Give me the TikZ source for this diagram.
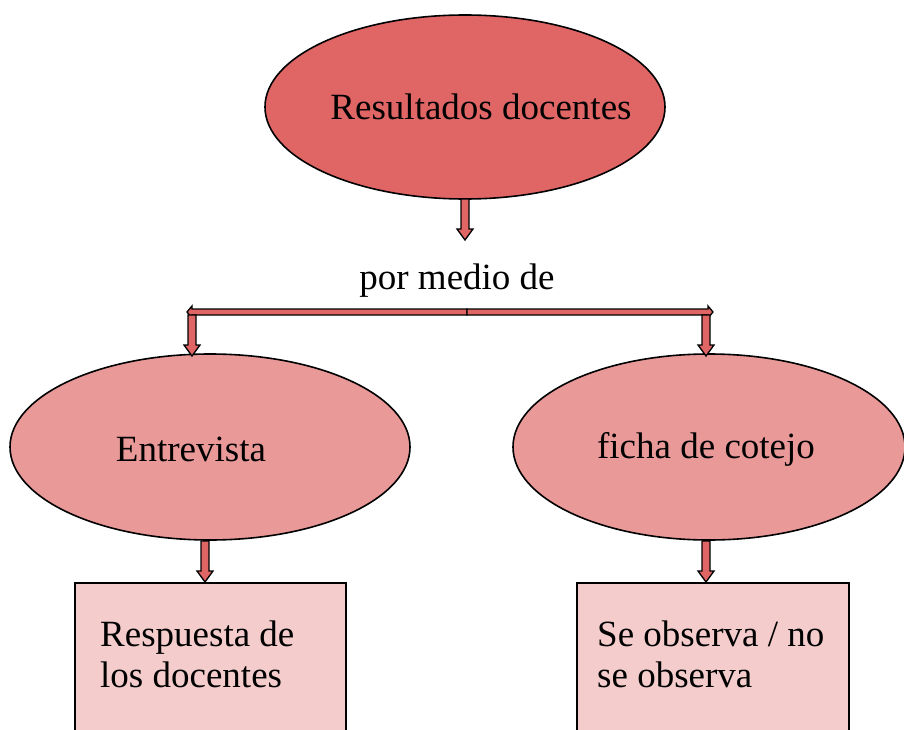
\documentclass[tikz,border=0pt]{standalone}
\usepackage{fontspec}
\setmainfont{Liberation Serif}
\usetikzlibrary{calc}
\definecolor{topfill}{HTML}{E06666}
\definecolor{midfill}{HTML}{EA9999}
\definecolor{boxfill}{HTML}{F4CCCC}
\definecolor{arrfill}{HTML}{E06666}
\tikzset{
  ell/.style={draw=black, line width=1.6pt, ellipse},
  boxsty/.style={draw=black, line width=1.3pt, fill=boxfill},
  arr/.style={draw=black, line width=1.3pt, fill=arrfill, line join=miter},
  txt/.style={font=\fontsize{37}{41}\selectfont, inner sep=0pt},
}
\newcommand\varr[3]{%
  \filldraw[arr] (#1-4,#2) -- (#1+4,#2) -- (#1+4,#3-11) -- (#1+8,#3-11) -- (#1,#3) -- (#1-8,#3-11) -- (#1-4,#3-11) -- cycle;}
\begin{document}
\begin{tikzpicture}[x=1pt,y=-1pt]
\useasboundingbox (0,0) rectangle (904,730);
\clip (0,0) rectangle (904,730);
% ellipses
\filldraw[draw=black, line width=1.6pt, fill=topfill] (465,107) ellipse [x radius=200, y radius=92];
\node[txt] (top) at (481,107) {Resultados docentes};
\filldraw[draw=black, line width=1.6pt, fill=midfill] (210,447) ellipse [x radius=200, y radius=93];
\node[txt] (entr) at (191,449) {Entrevista};
\filldraw[draw=black, line width=1.6pt, fill=midfill] (709,447) ellipse [x radius=196, y radius=93];
\node[txt] (ficha) at (706,449) {ficha de cotejo};
% label
\node[txt] (por) at (457,281) {por medio de};
% arrows
\varr{465}{199}{240}
\filldraw[arr] (467,309) -- (192,309) -- (192,306) -- (187,312) -- (192,318) -- (192,315) -- (467,315) -- cycle;
\filldraw[arr] (467,309) -- (708,309) -- (708,306) -- (713,312) -- (708,318) -- (708,315) -- (467,315) -- cycle;
\varr{192}{315}{356}
\varr{706}{315}{356}
\varr{205}{541}{582}
\varr{706}{541}{582}
% boxes
\filldraw[boxsty] (75,583) rectangle (346,745);
\filldraw[boxsty] (577,583) rectangle (849,745);
\node[txt, anchor=base west] (r1) at (100,646) {Respuesta de};
\node[txt, anchor=base west] (r2) at (100,687) {los docentes};
\node[txt, anchor=base west] (s1) at (597,646) {Se observa / no};
\node[txt, anchor=base west] (s2) at (597,687) {se observa};
\end{tikzpicture}
\end{document}
